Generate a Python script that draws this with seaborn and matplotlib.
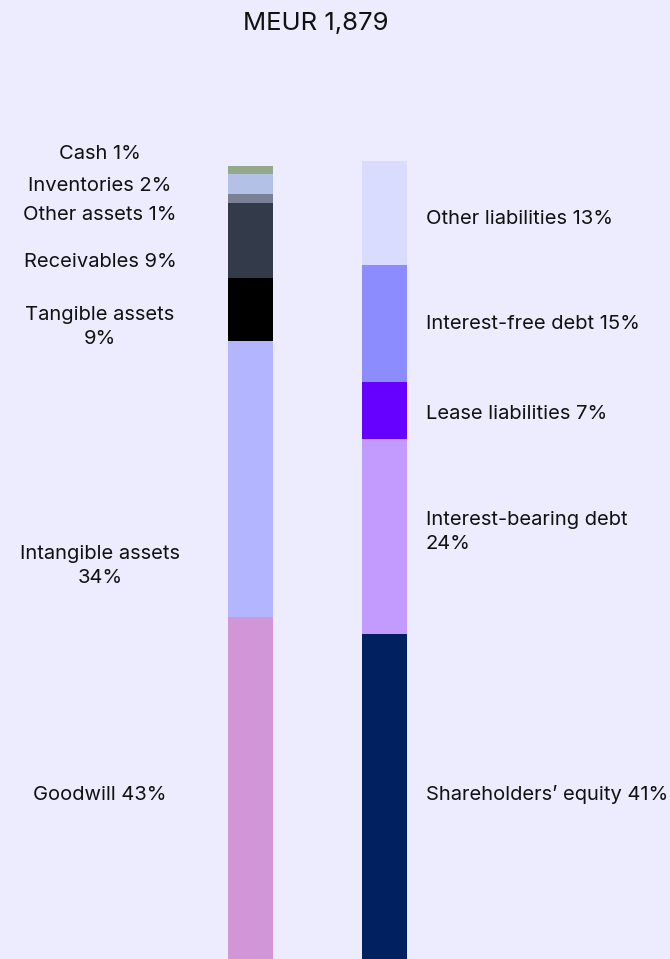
import numpy as np
import pandas as pd
import matplotlib.pyplot as plt
import seaborn as sns

# Balance sheet structure: bar heights (% of total),
# and the rounded percentages printed in the labels
asset_labels = ["Goodwill", "Intangible assets", "Tangible assets", "Receivables",
                "Other assets", "Inventories", "Cash"]
asset_height = [42.8, 34.5, 7.9, 9.4, 1.1, 2.5, 1.1]
asset_pct = [43, 34, 9, 9, 1, 2, 1]
asset_colors = ["#D096D8", "#B3B5FF", "#000000", "#333A4A", "#7A8196", "#B3C1E6", "#94A98A"]

liab_labels = ["Shareholders\u2019 equity", "Interest-bearing debt", "Lease liabilities",
               "Interest-free debt", "Other liabilities"]
liab_height = [40.7, 24.4, 7.1, 14.6, 13.1]
liab_pct = [41, 24, 7, 15, 13]
liab_colors = ["#00205F", "#C39BFF", "#6600FF", "#8C8CFF", "#D9DBFF"]

title = "MEUR 1,879"
sides = ["Assets", "Liabilities"]

BG = "#EDEBFE"
TXT = "#111111"

sns.set_theme(style="white")
plt.rcParams["font.family"] = ["Inter", "DejaVu Sans"]

fig = plt.figure(figsize=(6.7, 9.59), dpi=100, facecolor=BG)
ax = fig.add_axes([0, 0, 1, 1])
ax.set_facecolor(BG)


def stacked(side, heights, colors):
    tops = np.cumsum(heights)
    # draw from the top segment down so each lower one covers the rest
    for top, c in reversed(list(zip(tops, colors))):
        df = pd.DataFrame({"side": [side], "top": [top]})
        sns.barplot(data=df, x="side", y="top", order=sides, color=c,
                    saturation=1, width=0.337, errorbar=None, ax=ax,
                    linewidth=0)
    return tops


stacked("Assets", asset_height, asset_colors)
stacked("Liabilities", liab_height, liab_colors)

ax.set_xlim(-1.880, 3.139)
ax.set_ylim(0, 120.03)
ax.axis("off")

px = 7.99  # pixels per percent


def ypx(p):
    return (959 - p) / px


# label positions (pixel rows from the top), small ones spread out
left_y = [795, 566, 327, 262, 215, 186, 154]
two_line_left = {"Intangible assets", "Tangible assets"}
for lab, p, y in zip(asset_labels, asset_pct, left_y):
    s = f"{lab}\n{p}%" if lab in two_line_left else f"{lab} {p}%"
    ax.text(-1.13, ypx(y), s, ha="center", va="center", fontsize=14.5,
            color=TXT, linespacing=1.45)

right_y = [794, 532, 414, 324, 219]
for lab, p, y in zip(liab_labels, liab_pct, right_y):
    s = f"{lab}\n{p}%" if lab == "Interest-bearing debt" else f"{lab} {p}%"
    ax.text(1.31, ypx(y), s, ha="left", va="center", fontsize=14.5,
            color=TXT, linespacing=1.45)

fig.text(0.471, 1 - 24 / 959, title, ha="center", va="center",
         fontsize=18.5, color=TXT)

fig.savefig("out.png", dpi=100, facecolor=BG)
